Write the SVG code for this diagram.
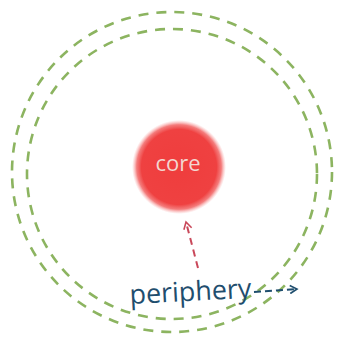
<svg xmlns="http://www.w3.org/2000/svg" width="339" height="338" viewBox="0 0 339 338">
<defs>
<radialGradient id="coreGrad" cx="0.5" cy="0.5" r="0.5">
<stop offset="0" stop-color="#ef3d3d"/>
<stop offset="0.8" stop-color="#ef4141"/>
<stop offset="0.9" stop-color="#f26464" stop-opacity="0.85"/>
<stop offset="1" stop-color="#f8a0a0" stop-opacity="0"/>
</radialGradient>
<marker id="arrRed" markerWidth="10" markerHeight="10" refX="8" refY="5" orient="auto" markerUnits="userSpaceOnUse">
<path d="M1,1 L8,5 L1,9" fill="none" stroke="#c9485a" stroke-width="1.6"/>
</marker>
<marker id="arrBlue" markerWidth="10" markerHeight="10" refX="8" refY="5" orient="auto" markerUnits="userSpaceOnUse">
<path d="M1,1 L8,5 L1,9" fill="none" stroke="#1f4e6e" stroke-width="1.6"/>
</marker>
<style>
.ring{fill:none;stroke:#8cb460;stroke-width:2.6;stroke-dasharray:10 8}
.lbl{font-family:"Open Sans","DejaVu Sans",sans-serif}
</style>
</defs>
<rect width="339" height="338" fill="#ffffff"/>
<g id="outer-ring"><circle class="ring" cx="172" cy="172" r="160"/></g>
<g id="inner-ring"><circle class="ring" cx="172" cy="174" r="145"/></g>
<g id="core">
<circle cx="179" cy="167" r="47" fill="url(#coreGrad)"/>
<text class="lbl" x="178" y="171" text-anchor="middle" font-size="22" fill="#f3d6d0">core</text>
</g>
<g id="connectors">
<line x1="198" y1="268" x2="186" y2="222" stroke="#c9485a" stroke-width="2" stroke-dasharray="7 5" marker-end="url(#arrRed)"/>
<line x1="254" y1="292" x2="297" y2="289" stroke="#1f4e6e" stroke-width="2" stroke-dasharray="7 4" marker-end="url(#arrBlue)"/>
</g>
<g id="periphery">
<text class="lbl" x="130" y="304" font-size="27" fill="#1f4e6e" textLength="122" lengthAdjust="spacingAndGlyphs" transform="rotate(-3 130 304)">periphery</text>
</g>
</svg>
